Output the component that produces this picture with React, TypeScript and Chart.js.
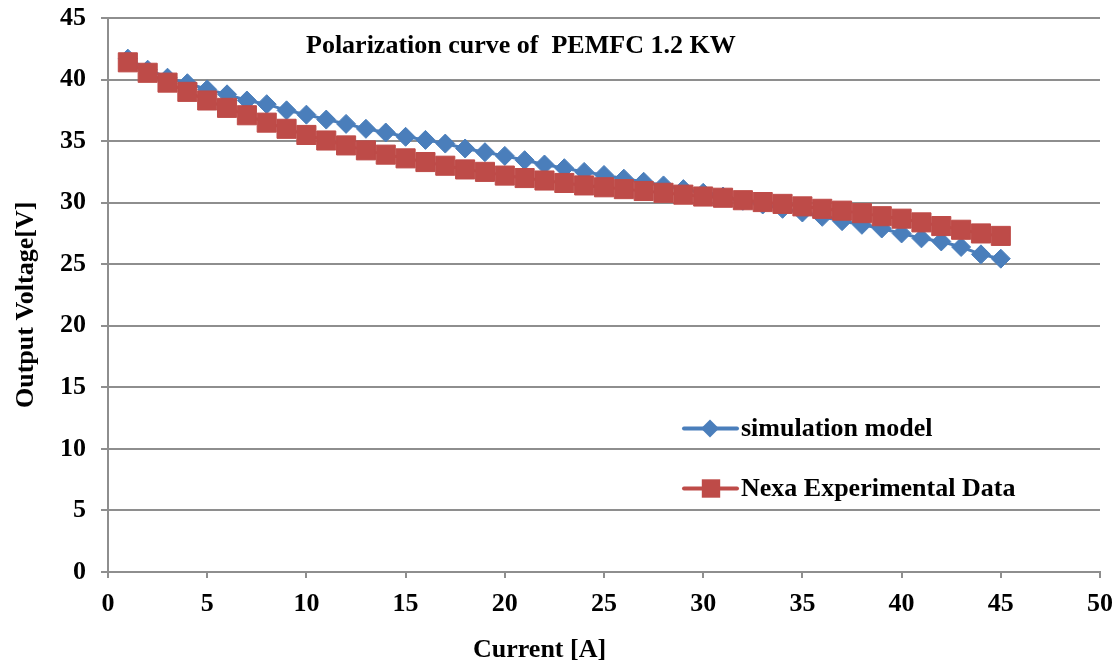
import React, { useEffect, useRef } from "react";
import { Chart, registerables } from "chart.js";

Chart.register(...registerables);

const currents = [
  1, 2, 3, 4, 5, 6, 7, 8, 9, 10, 11, 12, 13, 14, 15, 16, 17, 18, 19, 20, 21, 22, 23,
  24, 25, 26, 27, 28, 29, 30, 31, 32, 33, 34, 35, 36, 37, 38, 39, 40, 41, 42, 43, 44, 45,
];

const simulationModel = [
  41.7, 40.8, 40.15, 39.7, 39.2, 38.8, 38.3, 38.0, 37.5, 37.15, 36.75, 36.4, 36.0, 35.7,
  35.35, 35.1, 34.8, 34.4, 34.1, 33.8, 33.45, 33.1, 32.8, 32.5, 32.25, 31.95, 31.7, 31.4,
  31.1, 30.8, 30.5, 30.15, 29.85, 29.5, 29.2, 28.85, 28.5, 28.2, 27.9, 27.5, 27.1, 26.85,
  26.4, 25.8, 25.45,
];

const nexaExperimental = [
  41.4, 40.55, 39.75, 39.0, 38.3, 37.7, 37.1, 36.5, 36.0, 35.5, 35.05, 34.65, 34.25, 33.9,
  33.6, 33.3, 33.0, 32.7, 32.5, 32.2, 32.0, 31.8, 31.6, 31.4, 31.25, 31.1, 30.95, 30.8,
  30.65, 30.5, 30.4, 30.2, 30.05, 29.9, 29.7, 29.5, 29.35, 29.15, 28.9, 28.7, 28.4, 28.1,
  27.8, 27.5, 27.3,
];

const seriesNames = ["simulation model", "Nexa Experimental Data"];
const chartTitle = "Polarization curve of  PEMFC 1.2 KW";
const xAxisTitle = "Current [A]";
const yAxisTitle = "Output Voltage[V]";

const BLUE = "#4A7EBB";
const RED = "#BE4B48";
const GRID = "#8E8E8E";
const FONT = "bold 26px 'Liberation Serif', 'Times New Roman', serif";

const overlayPlugin = {
  id: "overlay",
  afterDraw(chart: any) {
    const ctx = chart.ctx as CanvasRenderingContext2D;
    ctx.save();
    ctx.fillStyle = "#000";
    ctx.font = FONT;
    ctx.textAlign = "left";
    ctx.textBaseline = "alphabetic";
    ctx.fillText(chartTitle, 306, 53);
    ctx.fillText(xAxisTitle, 473, 657);
    ctx.save();
    ctx.translate(32.5, 408);
    ctx.rotate(-Math.PI / 2);
    ctx.fillText(yAxisTitle, 0, 0);
    ctx.restore();

    const items = [
      { name: seriesNames[0], color: BLUE, y: 428.5, shape: "diamond" },
      { name: seriesNames[1], color: RED, y: 488.5, shape: "square" },
    ];
    for (const it of items) {
      ctx.strokeStyle = it.color;
      ctx.lineWidth = 4;
      ctx.lineCap = "round";
      ctx.beginPath();
      ctx.moveTo(684, it.y);
      ctx.lineTo(737, it.y);
      ctx.stroke();
      ctx.fillStyle = it.color;
      ctx.beginPath();
      if (it.shape === "diamond") {
        const r = 9;
        ctx.moveTo(710 - r, it.y);
        ctx.lineTo(710, it.y - r);
        ctx.lineTo(710 + r, it.y);
        ctx.lineTo(710, it.y + r);
        ctx.closePath();
      } else {
        const s = 9.2;
        ctx.rect(711 - s, it.y - s, 2 * s, 2 * s);
      }
      ctx.fill();
      ctx.fillStyle = "#000";
      ctx.fillText(it.name, 741, it.y + 7.5);
    }
    ctx.restore();
  },
};

export default function App() {
  const canvasRef = useRef<HTMLCanvasElement | null>(null);

  useEffect(() => {
    const canvas = canvasRef.current;
    if (!canvas) return;
    const chart = new Chart(canvas, {
      type: "line",
      data: {
        datasets: [
          {
            label: seriesNames[0],
            data: currents.map((c, i) => ({ x: c, y: simulationModel[i] })),
            borderColor: BLUE,
            backgroundColor: BLUE,
            borderWidth: 3,
            pointStyle: "rectRot",
            pointRadius: 9.5,
            pointBorderWidth: 1,
            pointBorderColor: BLUE,
            pointBackgroundColor: BLUE,
            tension: 0,
            order: 1,
          },
          {
            label: seriesNames[1],
            data: currents.map((c, i) => ({ x: c, y: nexaExperimental[i] })),
            borderColor: RED,
            backgroundColor: RED,
            borderWidth: 3,
            pointStyle: "rect",
            pointRadius: 13.5,
            pointBorderWidth: 1,
            pointBorderColor: RED,
            pointBackgroundColor: RED,
            tension: 0,
            order: 0,
          },
        ],
      },
      options: {
        responsive: false,
        animation: false,
        devicePixelRatio: 1,
        layout: { padding: { top: 18, right: 19, left: 0, bottom: 0 } },
        plugins: {
          legend: { display: false },
          title: { display: false },
          tooltip: { enabled: false },
        },
        scales: {
          x: {
            type: "linear",
            min: 0,
            max: 50,
            afterFit: (scale: any) => {
              scale.height = 94;
              scale.paddingLeft = 0;
              scale.paddingRight = 0;
              scale.paddingTop = 0;
              scale.paddingBottom = 0;
            },
            ticks: {
              stepSize: 5,
              color: "#000",
              font: { family: "'Liberation Serif', 'Times New Roman', serif", size: 26, weight: "bold" },
              padding: 11,
              maxRotation: 0,
            },
            grid: {
              drawOnChartArea: false,
              drawTicks: true,
              tickLength: 6,
              color: GRID,
              lineWidth: 2,
            },
            border: { display: true, color: GRID, width: 2 },
          },
          y: {
            type: "linear",
            min: 0,
            max: 45,
            afterFit: (scale: any) => {
              scale.width = 108;
              scale.paddingLeft = 0;
              scale.paddingRight = 0;
              scale.paddingTop = 0;
              scale.paddingBottom = 0;
            },
            ticks: {
              stepSize: 5,
              color: "#000",
              font: { family: "'Liberation Serif', 'Times New Roman', serif", size: 26, weight: "bold" },
              padding: 15,
            },
            grid: {
              drawOnChartArea: true,
              drawTicks: true,
              tickLength: 7,
              color: GRID,
              lineWidth: 2,
            },
            border: { display: true, color: GRID, width: 2 },
          },
        },
      },
      plugins: [overlayPlugin],
    });
    return () => chart.destroy();
  }, []);

  return (
    <div style={{ position: "fixed", left: 0, top: 0, width: 1119, height: 666, background: "#fff" }}>
      <canvas ref={canvasRef} width={1119} height={666} style={{ display: "block", width: 1119, height: 666 }} />
    </div>
  );
}
